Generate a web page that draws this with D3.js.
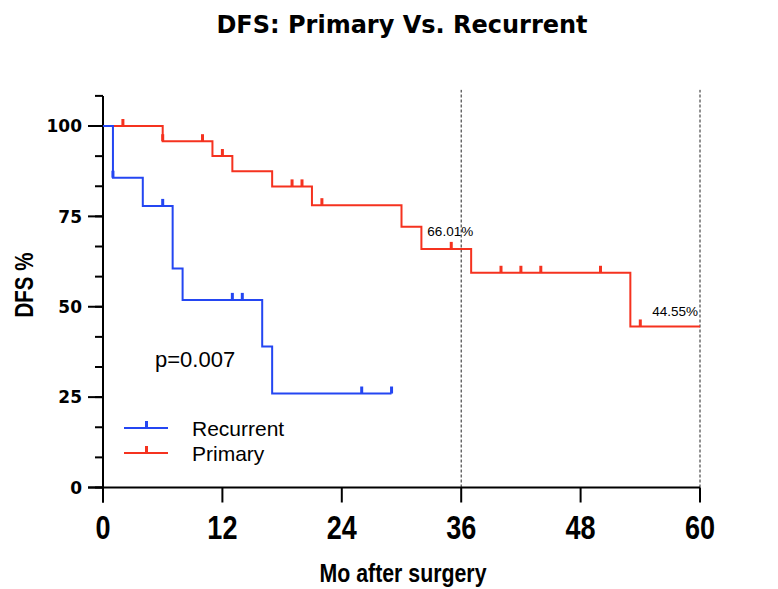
<!DOCTYPE html>
<html>
<head>
<meta charset="utf-8">
<script src="https://cdn.jsdelivr.net/npm/d3@7"></script>
<style>
  body { margin: 0; background: #fff; }
  svg { display: block; }
</style>
</head>
<body>
<svg id="chart"></svg>
<script>
// Kaplan-Meier steps: [month, DFS %] after each drop
var primarySteps = [[0, 100], [6, 95.8], [11, 91.7], [13, 87.5], [17, 83.3], [21, 78.1], [30, 72.1], [32, 66.01], [37, 59.4], [53, 44.55]];
var primaryEnd = 60;
var primaryCensors = [2, 6, 10, 12, 19, 20, 22, 35, 40, 42, 44, 50, 54];

var recurrentSteps = [[0, 100], [1, 85.7], [4, 77.9], [7, 60.6], [8, 51.9], [16, 39.0], [17, 26.0]];
var recurrentEnd = 29;
var recurrentCensors = [1, 6, 13, 14, 26, 29];

var xTicks = [0, 12, 24, 36, 48, 60];
var yTicks = [0, 25, 50, 75, 100];
var refLines = [36, 60];
var annotations = [{ month: 32.6, value: 66.01, text: "66.01%", dy: -13 }, { month: 55.2, value: 44.55, text: "44.55%", dy: -10 }];

var width = 778, height = 589;
var svg = d3.select("#chart").attr("width", width).attr("height", height);

var x = d3.scaleLinear().domain([0, 60]).range([103, 700]);
var y = d3.scaleLinear().domain([0, 108.33]).range([487.5, 95.9]);

var red = "#f5321f", blue = "#2446f2";
var narrow = "scale(0.82,1)"; // no condensed font installed, squeeze instead

// survival value at time t
function survival(steps, t) {
    var v = steps[0][1];
    steps.forEach(function(s) { if (s[0] <= t) v = s[1]; });
    return v;
}

// dashed reference lines
svg.selectAll(".ref")
    .data(refLines)
    .join("line")
    .attr("x1", d => x(d)).attr("x2", d => x(d))
    .attr("y1", y(0)).attr("y2", y(110))
    .attr("stroke", "#222")
    .attr("stroke-width", 1)
    .attr("stroke-dasharray", "3,2");

// axes
var yMinor = d3.range(0, 109, 25 / 3);
svg.append("line")
    .attr("x1", x(0)).attr("x2", x(0))
    .attr("y1", y(108.33)).attr("y2", y(0) + 15)
    .attr("stroke", "#000").attr("stroke-width", 2);
svg.append("line")
    .attr("x1", x(0) - 15).attr("x2", x(60))
    .attr("y1", y(0)).attr("y2", y(0))
    .attr("stroke", "#000").attr("stroke-width", 2);
svg.selectAll(".yminor")
    .data(yMinor)
    .join("line")
    .attr("x1", x(0) - 8).attr("x2", x(0))
    .attr("y1", d => y(d)).attr("y2", d => y(d))
    .attr("stroke", "#000").attr("stroke-width", 2);
svg.selectAll(".ymajor")
    .data(yTicks)
    .join("line")
    .attr("x1", x(0) - 15).attr("x2", x(0))
    .attr("y1", d => y(d)).attr("y2", d => y(d))
    .attr("stroke", "#000").attr("stroke-width", 2);
svg.selectAll(".ylab")
    .data(yTicks)
    .join("text")
    .attr("x", 82).attr("y", d => y(d))
    .attr("dy", "0.36em")
    .attr("text-anchor", "end")
    .style("font-family", "DejaVu Sans")
    .style("font-weight", "bold")
    .style("font-size", "17px")
    .text(d => d);
svg.selectAll(".xmajor")
    .data(xTicks)
    .join("line")
    .attr("x1", d => x(d)).attr("x2", d => x(d))
    .attr("y1", y(0)).attr("y2", y(0) + 15)
    .attr("stroke", "#000").attr("stroke-width", 2);
svg.selectAll(".xlab")
    .data(xTicks)
    .join("text")
    .attr("transform", d => "translate(" + x(d) + ",539) " + narrow)
    .attr("text-anchor", "middle")
    .style("font-family", "Liberation Sans")
    .style("font-weight", "bold")
    .style("font-size", "33px")
    .text(d => d);

// curves
var line = d3.line()
    .x(d => x(d[0]))
    .y(d => y(d[1]))
    .curve(d3.curveStepAfter);

function drawCurve(steps, end, censors, color) {
    var pts = steps.concat([[end, steps[steps.length - 1][1]]]);
    svg.append("path")
        .attr("d", line(pts))
        .attr("fill", "none")
        .attr("stroke", color)
        .attr("stroke-width", 2);
    svg.append("g").selectAll("rect")
        .data(censors)
        .join("rect")
        .attr("x", d => x(d) - 1.5)
        .attr("y", d => y(survival(steps, d)) - 7)
        .attr("width", 3)
        .attr("height", 7)
        .attr("fill", color);
}
drawCurve(primarySteps, primaryEnd, primaryCensors, red);
drawCurve(recurrentSteps, recurrentEnd, recurrentCensors, blue);

// annotations
svg.selectAll(".ann")
    .data(annotations)
    .join("text")
    .attr("x", d => x(d.month))
    .attr("y", d => y(d.value) + d.dy)
    .style("font-family", "Liberation Sans")
    .style("font-size", "13.5px")
    .text(d => d.text);

svg.append("text")
    .attr("x", 155).attr("y", 367)
    .style("font-family", "Liberation Sans")
    .style("font-size", "22px")
    .text("p=0.007");

// legend
var legend = [{ name: "Recurrent", color: blue, y: 428 }, { name: "Primary", color: red, y: 453 }];
legend.forEach(function(l) {
    svg.append("line")
        .attr("x1", 124).attr("x2", 168)
        .attr("y1", l.y).attr("y2", l.y)
        .attr("stroke", l.color).attr("stroke-width", 2);
    svg.append("rect")
        .attr("x", 145).attr("y", l.y - 7)
        .attr("width", 3).attr("height", 7)
        .attr("fill", l.color);
    svg.append("text")
        .attr("x", 192).attr("y", l.y + 8)
        .style("font-family", "Liberation Sans")
        .style("font-size", "21px")
        .text(l.name);
});

// titles
svg.append("text")
    .attr("x", 402).attr("y", 33)
    .attr("text-anchor", "middle")
    .style("font-family", "DejaVu Sans")
    .style("font-weight", "bold")
    .style("font-size", "24px")
    .text("DFS: Primary Vs. Recurrent");

svg.append("text")
    .attr("transform", "translate(403,582) " + narrow)
    .attr("text-anchor", "middle")
    .style("font-family", "Liberation Sans")
    .style("font-weight", "bold")
    .style("font-size", "26px")
    .text("Mo after surgery");

svg.append("text")
    .attr("transform", "translate(33,285) rotate(-90) " + narrow)
    .attr("text-anchor", "middle")
    .style("font-family", "Liberation Sans")
    .style("font-weight", "bold")
    .style("font-size", "25px")
    .text("DFS %");
</script>
</body>
</html>
